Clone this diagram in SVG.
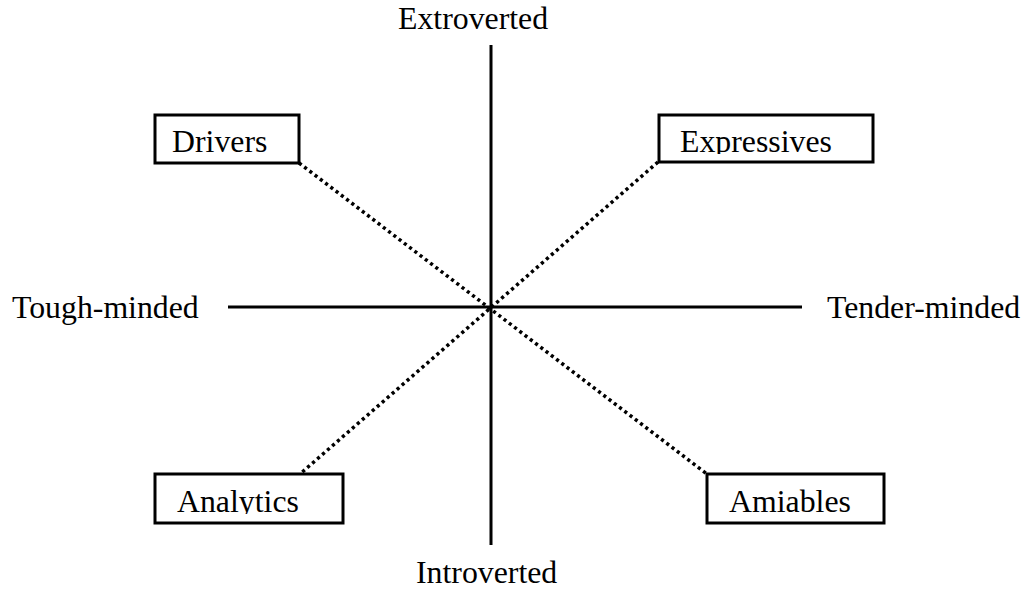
<svg xmlns="http://www.w3.org/2000/svg" width="1027" height="589" viewBox="0 0 1027 589">
<style>
text{font-family:"Liberation Serif","Times New Roman",serif;font-size:31.8px;fill:#000}
.box{fill:#fff;stroke:#000;stroke-width:3}
.axis{stroke:#000;stroke-width:3;fill:none}
.dot{stroke:#000;stroke-width:3.5;stroke-dasharray:3.2 3.4;fill:none}
</style>
<defs>
<clipPath id="clipExp"><rect x="658" y="115" width="215" height="39"/></clipPath>
<clipPath id="clipAna"><rect x="154" y="474" width="189" height="40"/></clipPath>
</defs>
<g id="connectors">
<line class="axis" x1="491" y1="45" x2="491" y2="545"/>
<line class="axis" x1="228" y1="307" x2="802" y2="307"/>
<line class="dot" x1="299" y1="163" x2="707" y2="474"/>
<line class="dot" x1="658" y1="162" x2="300" y2="474"/>
</g>
<g id="label-extroverted"><text x="398" y="29">Extroverted</text></g>
<g id="label-introverted"><text x="416" y="583">Introverted</text></g>
<g id="label-tough"><text x="12" y="318">Tough-minded</text></g>
<g id="label-tender"><text x="827" y="318">Tender-minded</text></g>
<g id="node-drivers">
<rect class="box" x="155" y="115" width="144" height="48"/>
<text x="172" y="152">Drivers</text>
</g>
<g id="node-expressives">
<rect class="box" x="659" y="115" width="214" height="47"/>
<text x="680" y="152" clip-path="url(#clipExp)">Expressives</text>
</g>
<g id="node-analytics">
<rect class="box" x="155" y="474" width="188" height="49"/>
<text x="177" y="512" clip-path="url(#clipAna)">Analytics</text>
</g>
<g id="node-amiables">
<rect class="box" x="707" y="474" width="177" height="49"/>
<text x="729" y="512">Amiables</text>
</g>
</svg>
